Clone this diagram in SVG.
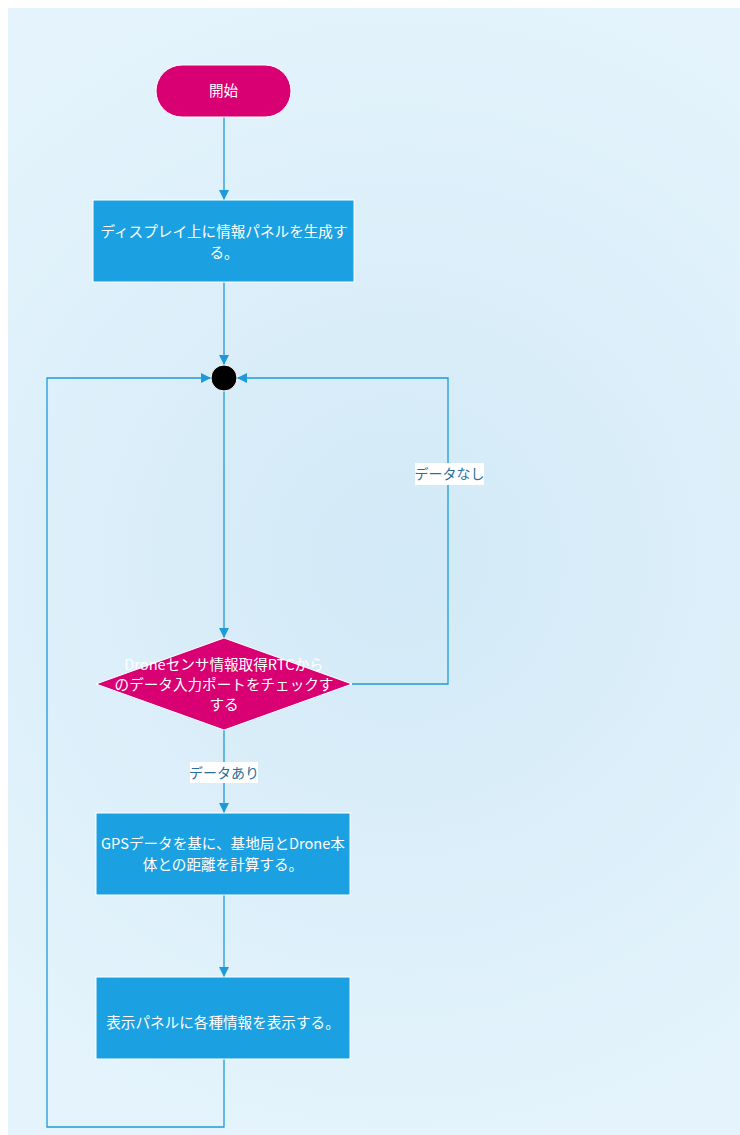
<svg xmlns="http://www.w3.org/2000/svg" width="740" height="1135" viewBox="0 0 740 1135">
<defs>
<radialGradient id="bg" cx="400" cy="560" r="620" gradientUnits="userSpaceOnUse">
<stop offset="0" stop-color="#d2e9f7"/>
<stop offset="1" stop-color="#e5f4fc"/>
</radialGradient>
<marker id="arr" viewBox="0 0 10 10" refX="10" refY="5" markerWidth="10" markerHeight="10" markerUnits="userSpaceOnUse" orient="auto">
<path d="M0,0 L10,5 L0,10 Z" fill="#1e9ad8"/>
</marker>
<style>
.edge{fill:none;stroke:#1e9ad8;stroke-width:1.3}
.proc{fill:#1ba1e2;stroke:#ffffff;stroke-width:1}
.mag{fill:#d80073;stroke:#ffffff;stroke-width:1}
.t{font-family:"Noto Sans CJK JP","Noto Sans",sans-serif;font-size:14.6px;fill:#ffffff;text-anchor:middle}
.lbl{font-family:"Noto Sans CJK JP","Noto Sans",sans-serif;font-size:14px;fill:#2b6f98;text-anchor:middle}
</style>
</defs>
<rect x="0" y="0" width="740" height="1135" fill="#ffffff"/>
<rect x="8" y="8" width="732" height="1127" fill="url(#bg)"/>
<g id="connectors">
<path class="edge" d="M224,117 L224,200" marker-end="url(#arr)"/>
<path class="edge" d="M224,282 L224,365" marker-end="url(#arr)"/>
<path class="edge" d="M224,391 L224,638" marker-end="url(#arr)"/>
<path class="edge" d="M352,684 L448,684 L448,378 L237,378" marker-end="url(#arr)"/>
<path class="edge" d="M224,730 L224,813" marker-end="url(#arr)"/>
<path class="edge" d="M224,895 L224,977" marker-end="url(#arr)"/>
<path class="edge" d="M224,1059 L224,1127 L47,1127 L47,378 L211,378" marker-end="url(#arr)"/>
<g id="label-nashi">
<rect x="415" y="463" width="69" height="22" fill="#ffffff"/>
<text class="lbl" x="449.5" y="479">データなし</text>
</g>
<g id="label-ari">
<rect x="190" y="762" width="68" height="21" fill="#ffffff"/>
<text class="lbl" x="224" y="778">データあり</text>
</g>
</g>
<g id="start">
<rect class="mag" x="156" y="65" width="135" height="52" rx="26" ry="26"/>
<text class="t" x="223.5" y="96">開始</text>
</g>
<g id="create-panel">
<rect class="proc" x="93" y="200" width="261" height="82"/>
<text class="t" x="224" y="237">ディスプレイ上に情報パネルを生成す</text>
<text class="t" x="224" y="258">る。</text>
</g>
<g id="merge">
<circle cx="224" cy="378" r="13" fill="#000000" stroke="#ffffff" stroke-width="1"/>
</g>
<g id="check">
<polygon class="mag" points="224,638 352,684 224,730 96,684"/>
<text class="t" x="224" y="670">Droneセンサ情報取得RTCから</text>
<text class="t" x="224" y="690">のデータ入力ポートをチェックす</text>
<text class="t" x="224" y="710">する</text>
</g>
<g id="calc">
<rect class="proc" x="96" y="813" width="254" height="82"/>
<text class="t" x="223" y="849">GPSデータを基に、基地局とDrone本</text>
<text class="t" x="223" y="870">体との距離を計算する。</text>
</g>
<g id="show">
<rect class="proc" x="96" y="977" width="254" height="82"/>
<text class="t" x="223" y="1028">表示パネルに各種情報を表示する。</text>
</g>
</svg>
